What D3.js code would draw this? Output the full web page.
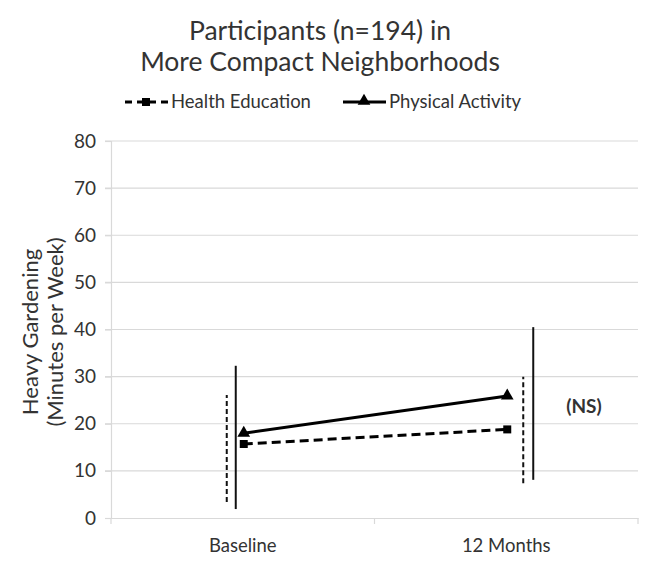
<!DOCTYPE html>
<html><head><meta charset="utf-8">
<script src="https://cdn.jsdelivr.net/npm/d3@7"></script>
<style>body{margin:0;background:#fff}svg{display:block}text{font-family:Lato,"Open Sans",sans-serif;fill:#333}</style>
</head><body><svg id="c" width="646" height="561"></svg>
<script>
const categories = ["Baseline", "12 Months"];
const yTicks = [0, 10, 20, 30, 40, 50, 60, 70, 80];
const healthEducation = [15.7, 18.8];
const healthEducationLow = [3.4, 7.4];
const healthEducationHigh = [26.1, 30.0];
const physicalActivity = [18.0, 25.9];
const physicalActivityLow = [1.9, 8.1];
const physicalActivityHigh = [32.3, 40.5];

const svg = d3.select("#c");
const L = 111, R = 638, T = 141, B = 518;
const x = d3.scaleBand().domain(categories).range([L, R]);
const y = d3.scaleLinear().domain([0, 80]).range([B, T]);
const cx = c => x(c) + x.bandwidth() / 2 + 1;

// gridlines
svg.append("g").selectAll("line").data(yTicks.filter(d => d > 0)).join("line")
  .attr("x1", L - 6).attr("x2", R).attr("y1", d => y(d)).attr("y2", d => y(d))
  .attr("stroke", "#d9d9d9").attr("stroke-width", 1.2);

// y axis
const ya = svg.append("g").attr("transform", `translate(${L},0)`)
  .call(d3.axisLeft(y).tickValues(yTicks).tickSize(6).tickPadding(9));
ya.select(".domain").attr("stroke", "#d9d9d9").attr("stroke-width", 1.2);
ya.selectAll(".tick line").attr("stroke", "#d9d9d9").attr("stroke-width", 1.2);
ya.selectAll(".tick text").attr("font-size", 19).attr("font-family", "Lato,sans-serif").attr("fill", "#444");

// x axis
const xa = svg.append("g").attr("transform", `translate(0,${B})`)
  .call(d3.axisBottom(x).tickSize(0).tickPadding(21));
xa.select(".domain").attr("stroke", "#d9d9d9").attr("stroke-width", 1.2);
xa.selectAll(".tick text").attr("font-size", 18.5).attr("font-family", "Lato,sans-serif").attr("fill", "#444");
xa.append("g").selectAll("line").data([L, x(categories[1]), R]).join("line")
  .attr("x1", d => d).attr("x2", d => d).attr("y1", 0).attr("y2", 6)
  .attr("stroke", "#d9d9d9").attr("stroke-width", 1.2);

// error bars (offset from category centre like the original)
const ebOffsetHE = [-17, 16], ebOffsetPA = [-8, 26];
categories.forEach((c, i) => {
  svg.append("line").attr("x1", cx(c) + ebOffsetHE[i]).attr("x2", cx(c) + ebOffsetHE[i])
    .attr("y1", y(healthEducationLow[i])).attr("y2", y(healthEducationHigh[i]))
    .attr("stroke", "#111").attr("stroke-width", 2).attr("stroke-dasharray", "5,3");
  svg.append("line").attr("x1", cx(c) + ebOffsetPA[i]).attr("x2", cx(c) + ebOffsetPA[i])
    .attr("y1", y(physicalActivityLow[i])).attr("y2", y(physicalActivityHigh[i]))
    .attr("stroke", "#111").attr("stroke-width", 2);
});

const line = d3.line().x((d, i) => cx(categories[i])).y(d => y(d));
svg.append("path").datum(healthEducation).attr("d", line).attr("fill", "none")
  .attr("stroke", "#000").attr("stroke-width", 3).attr("stroke-dasharray", "9,5");
svg.append("path").datum(physicalActivity).attr("d", line).attr("fill", "none")
  .attr("stroke", "#000").attr("stroke-width", 3);

const sq = d3.symbol().type(d3.symbolSquare).size(64);
const tri = d3.symbol().type(d3.symbolTriangle).size(70);
svg.append("g").selectAll("path").data(healthEducation).join("path")
  .attr("d", sq).attr("transform", (d, i) => `translate(${cx(categories[i])},${y(d)})`).attr("fill", "#000");
svg.append("g").selectAll("path").data(physicalActivity).join("path")
  .attr("d", tri).attr("transform", (d, i) => `translate(${cx(categories[i])},${y(d)})`).attr("fill", "#000");

// title
svg.append("text").attr("x", 320).attr("y", 40).attr("text-anchor", "middle").attr("font-size", 26.5).text("Participants (n=194) in");
svg.append("text").attr("x", 320).attr("y", 71).attr("text-anchor", "middle").attr("font-size", 26.5).text("More Compact Neighborhoods");

// legend
const lg = svg.append("g");
lg.append("line").attr("x1", 125).attr("x2", 168).attr("y1", 102).attr("y2", 102).attr("stroke", "#000").attr("stroke-width", 3).attr("stroke-dasharray", "7,5");
lg.append("path").attr("d", sq).attr("transform", "translate(146,102)");
lg.append("text").attr("x", 171).attr("y", 108).attr("font-size", 18.5).text("Health Education");
lg.append("line").attr("x1", 343).attr("x2", 386).attr("y1", 102).attr("y2", 102).attr("stroke", "#000").attr("stroke-width", 3);
lg.append("path").attr("d", tri).attr("transform", "translate(364,101)");
lg.append("text").attr("x", 389).attr("y", 108).attr("font-size", 18.5).text("Physical Activity");

// y title
const yt = svg.append("text").attr("transform", "translate(0,332) rotate(-90)").attr("text-anchor", "middle").attr("font-size", 22);
yt.append("tspan").attr("x", 0).attr("y", 38).text("Heavy Gardening");
yt.append("tspan").attr("x", 0).attr("y", 63).text("(Minutes per Week)");

// NS
svg.append("text").attr("x", 584).attr("y", 413).attr("text-anchor", "middle").attr("font-size", 19).attr("font-weight", "bold").attr("fill", "#222").text("(NS)");
</script></body></html>
